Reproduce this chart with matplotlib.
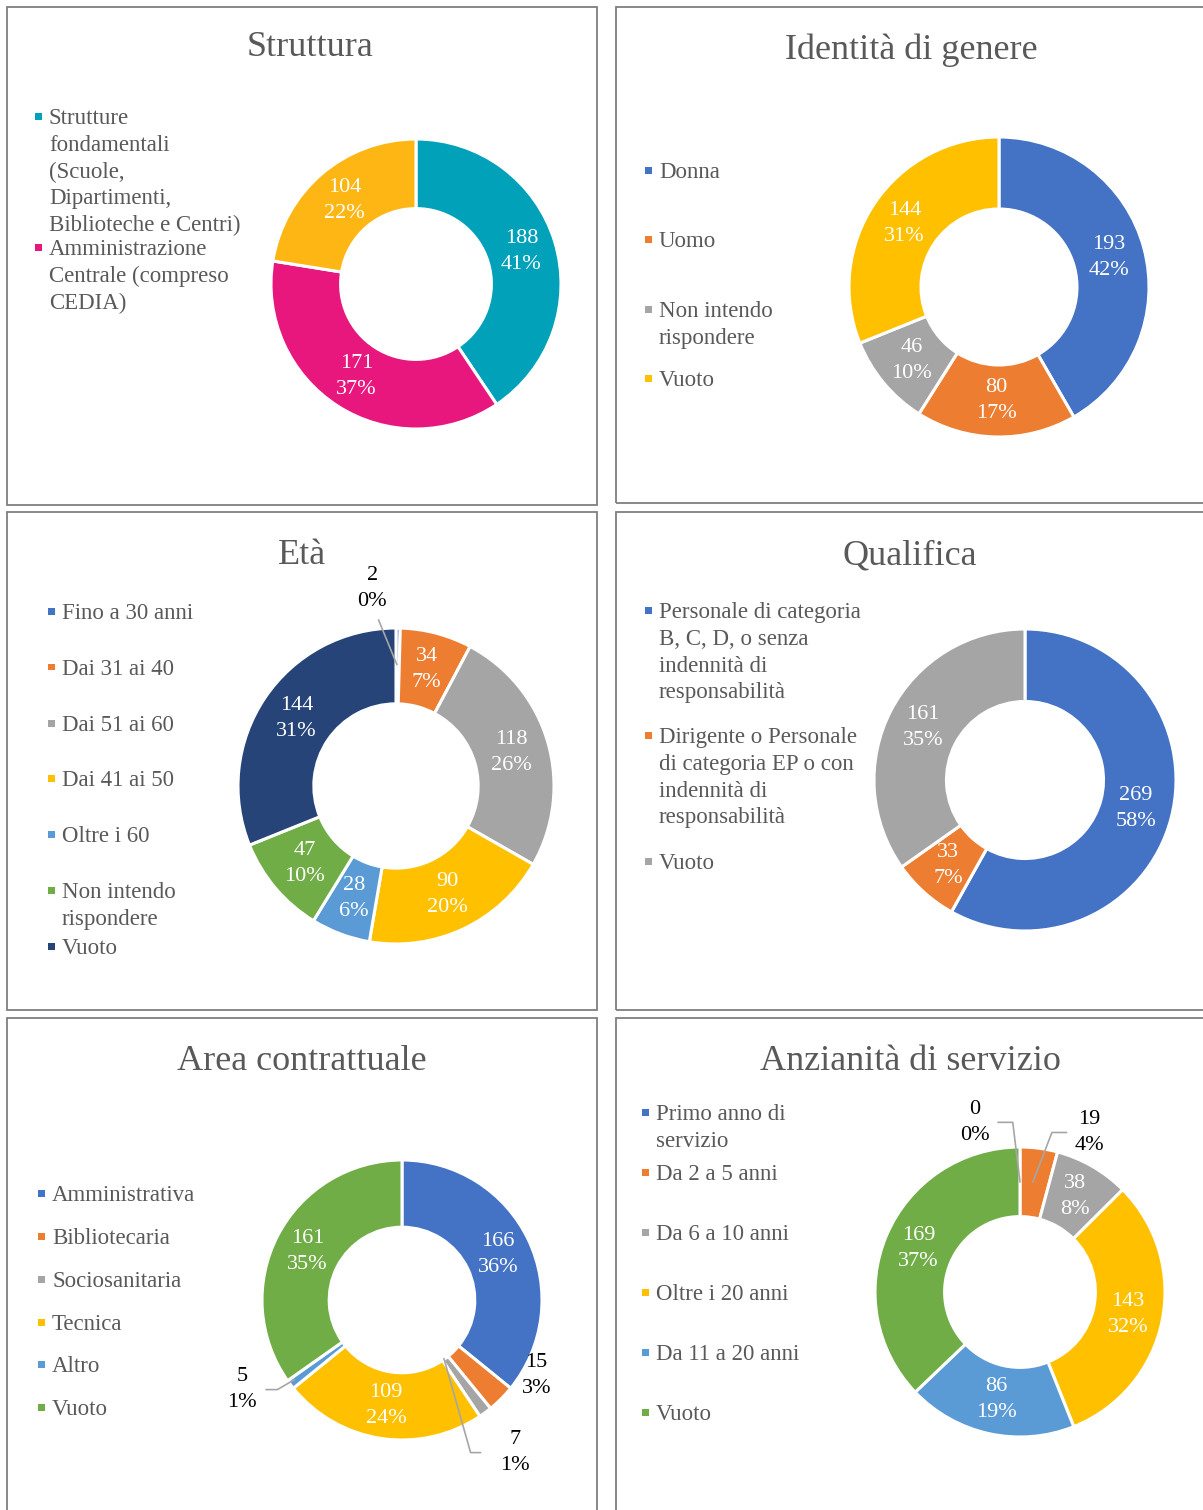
import math
import matplotlib
matplotlib.use("Agg")
import matplotlib.pyplot as plt
from matplotlib.patches import Rectangle

W, H = 1203, 1510
plt.rcParams['font.family'] = ['Liberation Serif', 'DejaVu Serif']

TEXT_GRAY = "#595959"

# ---- data ----
struttura_labels = ["Strutture\nfondamentali\n(Scuole,\nDipartimenti,\nBiblioteche e Centri)",
                    "Amministrazione\nCentrale (compreso\nCEDIA)", "Vuoto"]
struttura_values = [188, 171, 104]
struttura_pct = ["41%", "37%", "22%"]

genere_labels = ["Donna", "Uomo", "Non intendo\nrispondere", "Vuoto"]
genere_values = [193, 80, 46, 144]
genere_pct = ["42%", "17%", "10%", "31%"]

eta_labels = ["Fino a 30 anni", "Dai 31 ai 40", "Dai 51 ai 60", "Dai 41 ai 50",
              "Oltre i 60", "Non intendo\nrispondere", "Vuoto"]
eta_values = [2, 34, 118, 90, 28, 47, 144]
eta_pct = ["0%", "7%", "26%", "20%", "6%", "10%", "31%"]

qualifica_labels = ["Personale di categoria\nB, C, D, o senza\nindennità di\nresponsabilità",
                    "Dirigente o Personale\ndi categoria EP o con\nindennità di\nresponsabilità",
                    "Vuoto"]
qualifica_values = [269, 33, 161]
qualifica_pct = ["58%", "7%", "35%"]

area_labels = ["Amministrativa", "Bibliotecaria", "Sociosanitaria", "Tecnica", "Altro", "Vuoto"]
area_values = [166, 15, 7, 109, 5, 161]
area_pct = ["36%", "3%", "1%", "24%", "1%", "35%"]

anz_labels = ["Primo anno di\nservizio", "Da 2 a 5 anni", "Da 6 a 10 anni",
              "Oltre i 20 anni", "Da 11 a 20 anni", "Vuoto"]
anz_values = [0, 19, 38, 143, 86, 169]
anz_pct = ["0%", "4%", "8%", "32%", "19%", "37%"]

# ---- colours ----
c_blue, c_orange, c_gray, c_yellow = "#4472C4", "#ED7D31", "#A5A5A5", "#FFC000"
c_lblue, c_green, c_navy = "#5B9BD5", "#70AD47", "#264478"

# ---- layout (pixels) ----
charts = [
    dict(title="Struttura", labels=struttura_labels, values=struttura_values, pct=struttura_pct,
         colors=["#00A1B9", "#E8177D", "#FDB614"], panel=(7, 7, 590, 498),
         center=(416, 284), r=145, title_xy=(310, 48),
         leg_x=38, leg_y=[116, 247], outside={}),
    dict(title="Identità di genere", labels=genere_labels, values=genere_values, pct=genere_pct,
         colors=[c_blue, c_orange, c_gray, c_yellow], panel=(616, 7, 600, 496),
         center=(999, 287), r=150, title_xy=(911, 50),
         leg_x=648, leg_y=[170, 239, 309, 378], outside={}),
    dict(title="Età", labels=eta_labels, values=eta_values, pct=eta_pct,
         colors=[c_blue, c_orange, c_gray, c_yellow, c_lblue, c_green, c_navy], panel=(7, 512, 590, 498),
         center=(396, 786), r=158, title_xy=(302, 556),
         leg_x=51, leg_y=[611, 667, 723, 778, 834, 890, 946],
         outside={0: ((-0.15, 1.25), [(-0.11, 1.05), (0.005, 0.77)])}),
    dict(title="Qualifica", labels=qualifica_labels, values=qualifica_values, pct=qualifica_pct,
         colors=[c_blue, c_orange, c_gray], panel=(616, 512, 600, 498),
         center=(1025, 780), r=151, title_xy=(910, 556),
         leg_x=648, leg_y=[610, 735, 861], outside={}),
    dict(title="Area contrattuale", labels=area_labels, values=area_values, pct=area_pct,
         colors=[c_blue, c_orange, c_gray, c_yellow, c_lblue, c_green], panel=(7, 1018, 590, 510),
         center=(402, 1300), r=140, title_xy=(302, 1062),
         leg_x=41, leg_y=[1193, 1236, 1279, 1322, 1364, 1407],
         outside={1: ((0.96, -0.54), None),
                  2: ((0.81, -1.09), [(0.56, -1.09), (0.49, -1.09), (0.30, -0.42)]),
                  4: ((-1.14, -0.64), [(-0.97, -0.64), (-0.89, -0.64), (-0.77, -0.57)])}),
    dict(title="Anzianità di servizio", labels=anz_labels, values=anz_values, pct=anz_pct,
         colors=[c_blue, c_orange, c_gray, c_yellow, c_lblue, c_green], panel=(616, 1018, 600, 510),
         center=(1020, 1292), r=145, title_xy=(910, 1062),
         leg_x=645, leg_y=[1112, 1172, 1232, 1292, 1352, 1412],
         outside={0: ((-0.31, 1.17), [(-0.15, 1.17), (-0.05, 1.17), (0.0, 0.76)]),
                  1: ((0.48, 1.10), [(0.32, 1.10), (0.22, 1.10), (0.09, 0.76)])}),
]

LABEL_FS = 16
LEGEND_FS = 16.5
TITLE_FS = 26

fig = plt.figure(figsize=(W / 100, H / 100), dpi=100)


def fx(x):
    return x / W


def fy(y):
    return 1 - y / H


for ch in charts:
    # panel border
    px, py, pw, ph = ch["panel"]
    fig.patches.append(Rectangle((fx(px), fy(py + ph)), pw / W, ph / H, transform=fig.transFigure,
                                 fill=False, edgecolor="#7F7F7F", linewidth=1.3))
    # title
    tx, ty = ch["title_xy"]
    fig.text(fx(tx), fy(ty), ch["title"], ha="center", va="center",
             fontsize=TITLE_FS, color=TEXT_GRAY)

    # legend
    for lab, col, ly in zip(ch["labels"], ch["colors"], ch["leg_y"]):
        fig.patches.append(Rectangle((fx(ch["leg_x"] - 3.5), fy(ly + 3.5)), 7 / W, 7 / H,
                                     transform=fig.transFigure, facecolor=col, edgecolor="none"))
        fig.text(fx(ch["leg_x"] + 11), fy(ly - 8), lab, ha="left", va="top",
                 fontsize=LEGEND_FS, color=TEXT_GRAY, linespacing=1.36)

    # donut
    cx, cy = ch["center"]
    r = ch["r"]
    ax = fig.add_axes([fx(cx - r), fy(cy + r), 2 * r / W, 2 * r / H])
    vals = ch["values"]
    ax.pie(vals, colors=ch["colors"], startangle=90, counterclock=False, radius=1,
           wedgeprops=dict(width=0.48, edgecolor="white", linewidth=2.2))
    ax.set_xlim(-1, 1)
    ax.set_ylim(-1, 1)
    ax.axis("off")

    total = sum(vals)
    cum = 0
    for i, (v, p) in enumerate(zip(vals, ch["pct"])):
        mid = math.radians(90 - 360 * (cum + v / 2) / total)
        cum += v
        txt = f"{v}\n{p}"
        if i in ch["outside"]:
            (lx, ly), leader = ch["outside"][i]
            ax.text(lx, ly, txt, ha="center", va="center", color="black",
                    fontsize=LABEL_FS, linespacing=1.5, clip_on=False)
            if leader:
                ax.plot([q[0] for q in leader], [q[1] for q in leader], color="#A6A6A6",
                        lw=1.2, clip_on=False)
        else:
            ax.text(0.76 * math.cos(mid), 0.76 * math.sin(mid), txt, ha="center", va="center",
                    color="white", fontsize=LABEL_FS, linespacing=1.5)

fig.savefig("out.png", dpi=100)
